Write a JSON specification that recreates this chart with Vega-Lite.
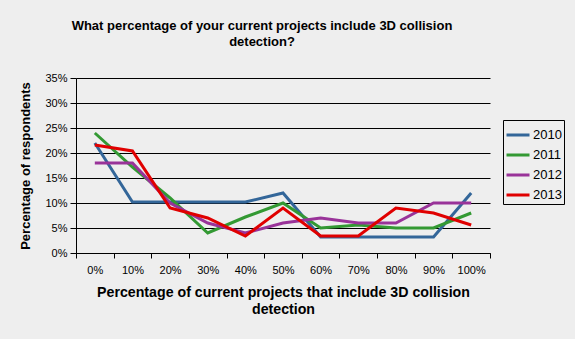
{
  "$schema": "https://vega.github.io/schema/vega-lite/v6.json",
  "width": 414,
  "height": 175,
  "autosize": "none",
  "padding": {"left": 76, "top": 78, "right": 85, "bottom": 86},
  "background": "#EEEEEE",
  "title": {
    "text": ["What percentage of your current projects include 3D collision", "detection?"],
    "anchor": "middle",
    "frame": "group",
    "dx": -21,
    "offset": 23,
    "font": "Liberation Sans",
    "fontSize": 13,
    "fontWeight": "bold",
    "lineHeight": 16,
    "color": "#000000"
  },
  "config": {
    "view": {"stroke": null},
    "font": "Liberation Sans"
  },
  "data": {
    "values": [
      {"x": "0%", "year": "2010", "v": 22}, {"x": "10%", "year": "2010", "v": 10.2}, {"x": "20%", "year": "2010", "v": 10.2}, {"x": "30%", "year": "2010", "v": 10.2}, {"x": "40%", "year": "2010", "v": 10.2}, {"x": "50%", "year": "2010", "v": 12}, {"x": "60%", "year": "2010", "v": 3.2}, {"x": "70%", "year": "2010", "v": 3.2}, {"x": "80%", "year": "2010", "v": 3.2}, {"x": "90%", "year": "2010", "v": 3.2}, {"x": "100%", "year": "2010", "v": 12},
      {"x": "0%", "year": "2011", "v": 24}, {"x": "10%", "year": "2011", "v": 17.2}, {"x": "20%", "year": "2011", "v": 11}, {"x": "30%", "year": "2011", "v": 4}, {"x": "40%", "year": "2011", "v": 7.2}, {"x": "50%", "year": "2011", "v": 10}, {"x": "60%", "year": "2011", "v": 5}, {"x": "70%", "year": "2011", "v": 5.6}, {"x": "80%", "year": "2011", "v": 5}, {"x": "90%", "year": "2011", "v": 5}, {"x": "100%", "year": "2011", "v": 8},
      {"x": "0%", "year": "2012", "v": 18}, {"x": "10%", "year": "2012", "v": 18}, {"x": "20%", "year": "2012", "v": 10}, {"x": "30%", "year": "2012", "v": 6}, {"x": "40%", "year": "2012", "v": 4}, {"x": "50%", "year": "2012", "v": 6}, {"x": "60%", "year": "2012", "v": 7}, {"x": "70%", "year": "2012", "v": 6}, {"x": "80%", "year": "2012", "v": 6}, {"x": "90%", "year": "2012", "v": 10}, {"x": "100%", "year": "2012", "v": 10},
      {"x": "0%", "year": "2013", "v": 21.6}, {"x": "10%", "year": "2013", "v": 20.4}, {"x": "20%", "year": "2013", "v": 9}, {"x": "30%", "year": "2013", "v": 7}, {"x": "40%", "year": "2013", "v": 3.4}, {"x": "50%", "year": "2013", "v": 9}, {"x": "60%", "year": "2013", "v": 3.4}, {"x": "70%", "year": "2013", "v": 3.4}, {"x": "80%", "year": "2013", "v": 9}, {"x": "90%", "year": "2013", "v": 8}, {"x": "100%", "year": "2013", "v": 5.6}
    ]
  },
  "mark": {"type": "line", "strokeWidth": 3, "strokeJoin": "miter"},
  "encoding": {
    "x": {
      "field": "x", "type": "ordinal",
      "sort": ["0%", "10%", "20%", "30%", "40%", "50%", "60%", "70%", "80%", "90%", "100%"],
      "scale": {"type": "band", "paddingInner": 0, "paddingOuter": 0},
      "axis": {
        "title": ["Percentage of current projects that include 3D collision", "detection"],
        "titleFont": "Liberation Sans", "titleFontSize": 14.2, "titleFontWeight": "bold", "titleColor": "#000000",
        "titleLineHeight": 17, "titlePadding": 10,
        "labelAngle": 0, "labelFont": "Liberation Sans", "labelFontSize": 11, "labelColor": "#000000", "labelPadding": 6,
        "tickBand": "extent", "tickColor": "#000000", "tickSize": 5, "domainColor": "#000000", "grid": false
      }
    },
    "y": {
      "field": "v", "type": "quantitative",
      "scale": {"domain": [0, 35], "nice": false},
      "axis": {
        "title": "Percentage of respondents",
        "titleFont": "Liberation Sans", "titleFontSize": 13, "titleFontWeight": "bold", "titleColor": "#000000", "titlePadding": 12,
        "values": [0, 5, 10, 15, 20, 25, 30, 35],
        "labelExpr": "datum.value + '%'",
        "labelFont": "Liberation Sans", "labelFontSize": 11, "labelColor": "#000000", "labelPadding": 3,
        "tickColor": "#000000", "tickSize": 6, "domainColor": "#000000",
        "grid": true, "gridColor": "#000000", "gridOpacity": 1
      }
    },
    "color": {
      "field": "year", "type": "nominal",
      "scale": {"domain": ["2010", "2011", "2012", "2013"], "range": ["#336699", "#339933", "#993399", "#E00000"]},
      "legend": {
        "title": null, "orient": "none", "legendX": 427, "legendY": 42,
        "symbolType": "stroke", "symbolStrokeWidth": 3, "symbolSize": 529,
        "labelFont": "Liberation Sans", "labelFontSize": 13, "labelColor": "#000000",
        "strokeColor": "#000000", "padding": 2, "rowPadding": -2, "labelOffset": 2
      }
    }
  }
}
